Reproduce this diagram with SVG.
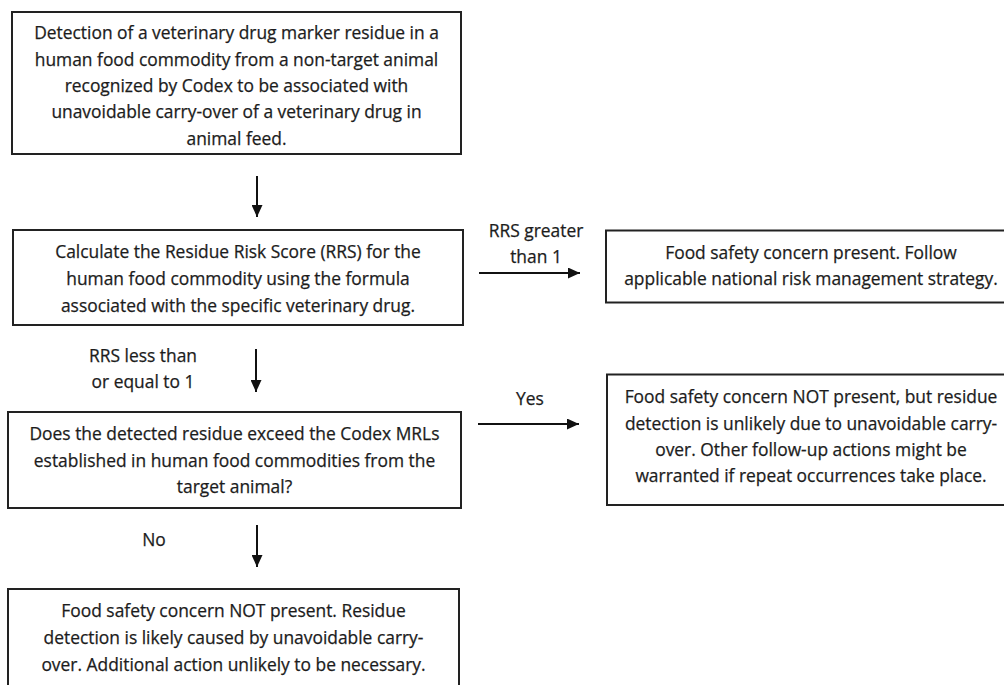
<svg xmlns="http://www.w3.org/2000/svg" width="1004" height="685" viewBox="0 0 1004 685">
<defs>
<marker id="ah" viewBox="0 0 12 11" refX="12" refY="5.5" markerWidth="12" markerHeight="11" markerUnits="userSpaceOnUse" orient="auto">
<path d="M0,0 L12,5.5 L0,11 Z" fill="#111"/>
</marker>
<style>
.box{fill:#fff;stroke:#222;stroke-width:2}
.t{font-family:"Open Sans","Liberation Sans",sans-serif;font-size:17.4px;fill:#1c1c1c;stroke:#1c1c1c;stroke-width:0.25;text-anchor:middle}
.c{stroke:#111;stroke-width:2;fill:none;marker-end:url(#ah)}
</style>
</defs>
<rect width="1004" height="685" fill="#fff"/>
<g id="n1">
<rect class="box" x="12" y="12" width="449" height="142"/>
<text class="t" x="236.5"><tspan x="236.5" y="39">Detection of a veterinary drug marker residue in a</tspan><tspan x="236.5" y="65.5">human food commodity from a non-target animal</tspan><tspan x="236.5" y="92">recognized by Codex to be associated with</tspan><tspan x="236.5" y="118">unavoidable carry-over of a veterinary drug in</tspan><tspan x="236.5" y="144.5">animal feed.</tspan></text>
</g>
<g id="n2">
<rect class="box" x="13" y="230" width="450" height="95"/>
<text class="t"><tspan x="238" y="258">Calculate the Residue Risk Score (RRS) for the</tspan><tspan x="238" y="285">human food commodity using the formula</tspan><tspan x="238" y="312">associated with the specific veterinary drug.</tspan></text>
</g>
<g id="n3">
<rect class="box" x="606" y="230.5" width="420" height="72"/>
<text class="t"><tspan x="811" y="258.5">Food safety concern present. Follow</tspan><tspan x="811" y="285">applicable national risk management strategy.</tspan></text>
</g>
<g id="n4">
<rect class="box" x="607" y="374.5" width="420" height="130.5"/>
<text class="t"><tspan x="811" y="403">Food safety concern NOT present, but residue</tspan><tspan x="811" y="429.5">detection is unlikely due to unavoidable carry-</tspan><tspan x="811" y="456">over. Other follow-up actions might be</tspan><tspan x="811" y="482">warranted if repeat occurrences take place.</tspan></text>
</g>
<g id="n5">
<rect class="box" x="8" y="412" width="453" height="96"/>
<text class="t"><tspan x="234.5" y="440">Does the detected residue exceed the Codex MRLs</tspan><tspan x="234.5" y="467">established in human food commodities from the</tspan><tspan x="234.5" y="493">target animal?</tspan></text>
</g>
<g id="n6">
<rect class="box" x="8" y="589" width="451" height="110"/>
<text class="t"><tspan x="233.5" y="617">Food safety concern NOT present. Residue</tspan><tspan x="233.5" y="644">detection is likely caused by unavoidable carry-</tspan><tspan x="233.5" y="671">over. Additional action unlikely to be necessary.</tspan></text>
</g>
<g id="connectors">
<line class="c" x1="257" y1="176" x2="257" y2="217"/>
<line class="c" x1="479" y1="273" x2="580" y2="273"/>
<line class="c" x1="256" y1="349" x2="256" y2="392"/>
<line class="c" x1="478" y1="424" x2="579" y2="424"/>
<line class="c" x1="257" y1="525" x2="257" y2="567"/>
<text class="t"><tspan x="536" y="237">RRS greater</tspan><tspan x="536" y="263">than 1</tspan></text>
<text class="t" x="530" y="405">Yes</text>
<text class="t"><tspan x="143" y="362">RRS less than</tspan><tspan x="143" y="388">or equal to 1</tspan></text>
<text class="t" x="154" y="546">No</text>
</g>
</svg>
